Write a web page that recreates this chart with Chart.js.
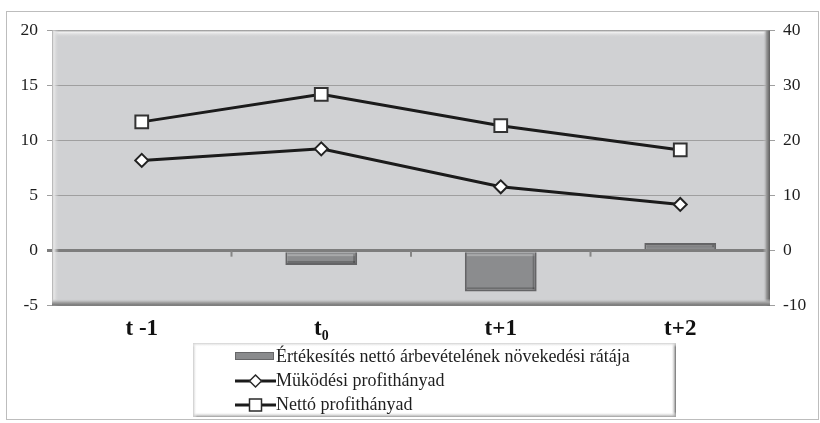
<!DOCTYPE html>
<html>
<head>
<meta charset="utf-8">
<script src="https://cdn.jsdelivr.net/npm/chart.js@4/dist/chart.umd.min.js"></script>
<style>
  html, body { margin: 0; padding: 0; background: #ffffff; }
  canvas { display: block; }
</style>
</head>
<body>
<canvas id="chart" width="820" height="423"></canvas>
<script>
// Periods on the category axis
const periods = ['t -1', 't\u2080', 't+1', 't+2'];
// Series names
const seriesNames = [
  'Értékesítés nettó árbevételének növekedési rátája',
  'Müködési profithányad',
  'Nettó profithányad'
];
// Sales growth rate (left axis, %)
const salesGrowth = [null, -1.3, -3.7, 0.7];
// Operating profit margin (right axis, %)
const operatingMargin = [16.4, 18.5, 11.6, 8.4];
// Net profit margin (right axis, %)
const netMargin = [23.4, 28.4, 22.7, 18.3];
// Axis ranges
const leftRange = { min: -5, max: 20, step: 5 };
const rightRange = { min: -10, max: 40, step: 10 };

const SERIF = "'Liberation Serif', 'Times New Roman', serif";
const PLOT_BG = '#d0d1d3';

// Grey plot background with a bevelled edge
const plotFrame = {
  id: 'plotFrame',
  beforeDraw(chart) {
    const { ctx, chartArea: a } = chart;
    ctx.save();
    ctx.fillStyle = PLOT_BG;
    ctx.fillRect(a.left, a.top, a.right - a.left, a.bottom - a.top);
    ctx.restore();
  },
  beforeDatasetsDraw(chart) {
    const { ctx, chartArea: a } = chart;
    const b = 7;
    ctx.save();
    let g = ctx.createLinearGradient(0, a.top, 0, a.top + b);
    g.addColorStop(0, '#a8a8a8'); g.addColorStop(0.25, '#f0f0f0'); g.addColorStop(1, 'rgba(208,209,211,0)');
    ctx.fillStyle = g; ctx.fillRect(a.left, a.top, a.right - a.left, b);
    g = ctx.createLinearGradient(a.left, 0, a.left + b, 0);
    g.addColorStop(0, '#a8a8a8'); g.addColorStop(0.25, '#e8e8e8'); g.addColorStop(1, 'rgba(208,209,211,0)');
    ctx.fillStyle = g; ctx.fillRect(a.left, a.top, b, a.bottom - a.top);
    g = ctx.createLinearGradient(a.right - b, 0, a.right, 0);
    g.addColorStop(0, 'rgba(208,209,211,0)'); g.addColorStop(0.5, '#9a9a9a'); g.addColorStop(1, '#5e5e5e');
    ctx.fillStyle = g; ctx.fillRect(a.right - b, a.top, b, a.bottom - a.top);
    g = ctx.createLinearGradient(0, a.bottom - b, 0, a.bottom);
    g.addColorStop(0, 'rgba(208,209,211,0)'); g.addColorStop(0.5, '#a6a6a6'); g.addColorStop(1, '#6e6e6e');
    ctx.fillStyle = g; ctx.fillRect(a.left, a.bottom - b, a.right - a.left, b);

    // category separators as short marks below the zero line
    const x = chart.scales.x, y = chart.scales.y;
    const y0 = y.getPixelForValue(0);
    ctx.strokeStyle = '#858585'; ctx.lineWidth = 2;
    for (let i = 0; i < periods.length - 1; i++) {
      const xb = (x.getPixelForTick(i) + x.getPixelForTick(i + 1)) / 2;
      ctx.beginPath(); ctx.moveTo(xb, y0); ctx.lineTo(xb, y0 + 6); ctx.stroke();
    }
    ctx.restore();
  },
  // inner shading on each bar for a raised look
  afterDatasetsDraw(chart) {
    const { ctx } = chart;
    const meta = chart.getDatasetMeta(2);
    ctx.save();
    meta.data.forEach(el => {
      if (!el || el.skip || isNaN(el.y)) return;
      const l = el.x - el.width / 2, r = el.x + el.width / 2;
      const t = Math.min(el.y, el.base), btm = Math.max(el.y, el.base);
      if (btm - t < 2) return;
      ctx.fillStyle = 'rgba(255,255,255,0.25)';
      ctx.fillRect(l + 2, t + 2, r - l - 4, 2);
      ctx.fillStyle = 'rgba(0,0,0,0.22)';
      ctx.fillRect(r - 4, t + 2, 2, btm - t - 4);
      ctx.fillRect(l + 2, btm - 4, r - l - 4, 2);
    });
    ctx.restore();
  }
};

// Outer chart border and the boxed, one-item-per-row legend
const frameAndLegend = {
  id: 'frameAndLegend',
  afterDraw(chart) {
    const { ctx } = chart;
    ctx.save();
    ctx.strokeStyle = '#bdbdbd'; ctx.lineWidth = 1;
    ctx.strokeRect(6.5, 11.5, 812, 408);

    const bx = 193, by = 343, bw = 483, bh = 74;
    ctx.fillStyle = '#ffffff'; ctx.fillRect(bx, by, bw, bh);
    let g = ctx.createLinearGradient(bx + bw - 5, 0, bx + bw, 0);
    g.addColorStop(0, 'rgba(255,255,255,0)'); g.addColorStop(1, '#6a6a6a');
    ctx.fillStyle = g; ctx.fillRect(bx + bw - 5, by, 5, bh);
    g = ctx.createLinearGradient(0, by + bh - 5, 0, by + bh);
    g.addColorStop(0, 'rgba(255,255,255,0)'); g.addColorStop(1, '#9a9a9a');
    ctx.fillStyle = g; ctx.fillRect(bx, by + bh - 5, bw, 5);
    g = ctx.createLinearGradient(bx, 0, bx + 4, 0);
    g.addColorStop(0, '#c8c8c8'); g.addColorStop(1, 'rgba(255,255,255,0)');
    ctx.fillStyle = g; ctx.fillRect(bx, by, 4, bh);
    g = ctx.createLinearGradient(0, by, 0, by + 4);
    g.addColorStop(0, '#d0d0d0'); g.addColorStop(1, 'rgba(255,255,255,0)');
    ctx.fillStyle = g; ctx.fillRect(bx, by, bw, 4);

    const mx0 = 235, mx1 = 276, tx = 276;
    const rows = [357, 381, 405];
    ctx.font = '18px ' + SERIF;
    ctx.textBaseline = 'middle';
    ctx.textAlign = 'left';
    seriesNames.forEach((name, i) => {
      const yy = rows[i];
      if (i === 0) {
        ctx.fillStyle = '#8a8b8d';
        ctx.fillRect(mx0, yy - 5, mx1 - mx0 - 2, 8);
        ctx.strokeStyle = '#666668'; ctx.lineWidth = 1;
        ctx.strokeRect(mx0 + 0.5, yy - 4.5, mx1 - mx0 - 3, 7);
      } else {
        ctx.strokeStyle = '#1b1b1b'; ctx.lineWidth = 3;
        ctx.beginPath(); ctx.moveTo(mx0, yy); ctx.lineTo(mx1, yy); ctx.stroke();
        const cx = (mx0 + mx1) / 2;
        ctx.fillStyle = '#ffffff'; ctx.strokeStyle = '#2a2a2a'; ctx.lineWidth = 1.5;
        ctx.beginPath();
        if (i === 1) {
          ctx.moveTo(cx, yy - 6); ctx.lineTo(cx + 6, yy); ctx.lineTo(cx, yy + 6); ctx.lineTo(cx - 6, yy); ctx.closePath();
        } else {
          ctx.rect(cx - 6, yy - 6, 12, 12);
        }
        ctx.fill(); ctx.stroke();
      }
      ctx.fillStyle = '#1e1e1e';
      ctx.fillText(name, tx, yy);
    });
    ctx.restore();
  }
};

new Chart(document.getElementById('chart'), {
  data: {
    labels: periods,
    datasets: [
      {
        type: 'line', label: seriesNames[2], data: netMargin, yAxisID: 'y2',
        borderColor: '#1b1b1b', borderWidth: 3, tension: 0,
        pointStyle: 'rect', pointRadius: 9, pointBorderWidth: 2,
        pointBackgroundColor: '#ffffff', pointBorderColor: '#333333', order: 1
      },
      {
        type: 'line', label: seriesNames[1], data: operatingMargin, yAxisID: 'y2',
        borderColor: '#1b1b1b', borderWidth: 3, tension: 0,
        pointStyle: 'rectRot', pointRadius: 6.5, pointBorderWidth: 2,
        pointBackgroundColor: '#ffffff', pointBorderColor: '#222222', order: 2
      },
      {
        type: 'bar', label: seriesNames[0], data: salesGrowth, yAxisID: 'y',
        backgroundColor: '#8b8c8e', borderColor: '#646466', borderWidth: 2,
        barPercentage: 0.4, categoryPercentage: 1, order: 3
      }
    ]
  },
  options: {
    responsive: false,
    animation: false,
    layout: { padding: { top: 30.5, left: 0, right: 0, bottom: 0 } },
    plugins: { legend: { display: false }, tooltip: { enabled: false } },
    scales: {
      x: {
        grid: { display: false, drawTicks: false },
        border: { display: false },
        ticks: { font: { family: SERIF, size: 23, weight: 'bold' }, color: '#111111', padding: 10 },
        afterFit(s) { s.height = 117.3; }
      },
      y: {
        position: 'left',
        min: leftRange.min, max: leftRange.max,
        ticks: { stepSize: leftRange.step, font: { family: SERIF, size: 17.5 }, color: '#1e1e1e', padding: 9 },
        grid: {
          tickLength: 5,
          color: c => (c.tick && c.tick.value === 0) ? '#7d7d7d' : '#9f9f9f',
          lineWidth: c => (c.tick && c.tick.value === 0) ? 3 : 1
        },
        border: { display: false },
        afterFit(s) { s.width = 52; }
      },
      y2: {
        position: 'right',
        min: rightRange.min, max: rightRange.max,
        ticks: { stepSize: rightRange.step, font: { family: SERIF, size: 17.5 }, color: '#1e1e1e', padding: 8 },
        grid: { drawOnChartArea: false, tickLength: 5, color: '#9f9f9f' },
        border: { display: false },
        afterFit(s) { s.width = 50; }
      }
    }
  },
  plugins: [plotFrame, frameAndLegend]
});
</script>
</body>
</html>
